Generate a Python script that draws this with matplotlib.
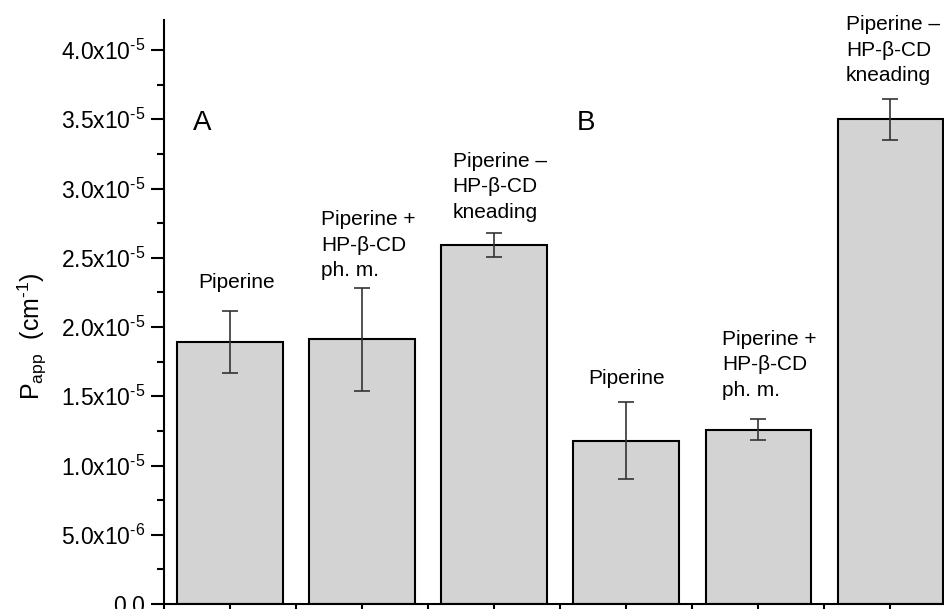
import matplotlib
matplotlib.use("Agg")
import matplotlib.pyplot as plt
import numpy as np

plt.rcParams['font.family'] = ['Liberation Sans', 'DejaVu Sans']
plt.rcParams['mathtext.fontset'] = 'custom'
plt.rcParams['mathtext.rm'] = 'Liberation Sans'
plt.rcParams['mathtext.it'] = 'Liberation Sans:italic'
plt.rcParams['mathtext.bf'] = 'Liberation Sans:bold'

# ---- data -----------------------------------------------------------------
labels = ["Piperine",
          "Piperine +\nHP-β-CD\nph. m.",
          "Piperine –\nHP-β-CD\nkneading",
          "Piperine",
          "Piperine +\nHP-β-CD\nph. m.",
          "Piperine –\nHP-β-CD\nkneading"]
papp = [1.89e-5, 1.91e-5, 2.59e-5, 1.18e-5, 1.26e-5, 3.50e-5]
papp_err = [0.225e-5, 0.375e-5, 0.088e-5, 0.275e-5, 0.078e-5, 0.148e-5]

ytick_vals = [0.0, 5e-6, 1e-5, 1.5e-5, 2e-5, 2.5e-5, 3e-5, 3.5e-5, 4e-5]
ytick_labels = ["0.0", r"5.0x10$^{\text{-}6}$", r"1.0x10$^{\text{-}5}$", r"1.5x10$^{\text{-}5}$",
                r"2.0x10$^{\text{-}5}$", r"2.5x10$^{\text{-}5}$", r"3.0x10$^{\text{-}5}$",
                r"3.5x10$^{\text{-}5}$", r"4.0x10$^{\text{-}5}$"]

x = np.arange(1, len(papp) + 1)

# ---- figure -----------------------------------------------------------------
fig = plt.figure(figsize=(9.45, 6.09), dpi=100)
ax = fig.add_axes([0.1735, 0.0082, 0.8387, 0.959])

ax.bar(x, papp, width=0.8, color="#d3d3d3", edgecolor="black", linewidth=1.5, zorder=2)
ax.errorbar(x, papp, yerr=papp_err, fmt="none", ecolor="#333333",
            elinewidth=1.2, capsize=6, capthick=1.2, zorder=3)

ax.set_xlim(0.5, 6.5)
ax.set_ylim(0, 4.217e-5)

ax.set_yticks(ytick_vals, ytick_labels, fontsize=16.5)
ax.set_yticks(np.arange(2.5e-6, 4.2e-5, 5e-6), minor=True)
ax.set_xticks(x, [""] * len(x))
ax.set_xticks(x - 0.5, minor=True)

ax.tick_params(axis="both", which="major", direction="out", length=9.5, width=1.5, pad=4)
ax.tick_params(axis="both", which="minor", direction="out", length=5, width=1.5)
for s in ["left", "bottom"]:
    ax.spines[s].set_linewidth(1.5)
ax.spines["top"].set_visible(False)
ax.spines["right"].set_visible(False)

ax.set_ylabel(r"P$_{\mathrm{app}}$  (cm$^{\text{-}1}$)", fontsize=18)
ax.yaxis.set_label_coords(-0.145, 0.459)

# bar labels (single-line ones centred, three-line ones left aligned)
fs = 15
ax.text(1.05, 2.318e-5, labels[0], ha="center", va="center", fontsize=fs)
ax.text(1.688, 2.592e-5, labels[1], ha="left", va="center", fontsize=fs, linespacing=1.43)
ax.text(2.685, 3.011e-5, labels[2], ha="left", va="center", fontsize=fs, linespacing=1.43)
ax.text(4.0, 1.625e-5, labels[3], ha="center", va="center", fontsize=fs)
ax.text(4.724, 1.726e-5, labels[4], ha="left", va="center", fontsize=fs, linespacing=1.43)
ax.text(5.663, 4.0e-5, labels[5], ha="left", va="center", fontsize=fs, linespacing=1.43)

ax.text(0.79, 3.47e-5, "A", ha="center", va="center", fontsize=20)
ax.text(3.695, 3.47e-5, "B", ha="center", va="center", fontsize=20)

fig.savefig("out.png", dpi=100)
